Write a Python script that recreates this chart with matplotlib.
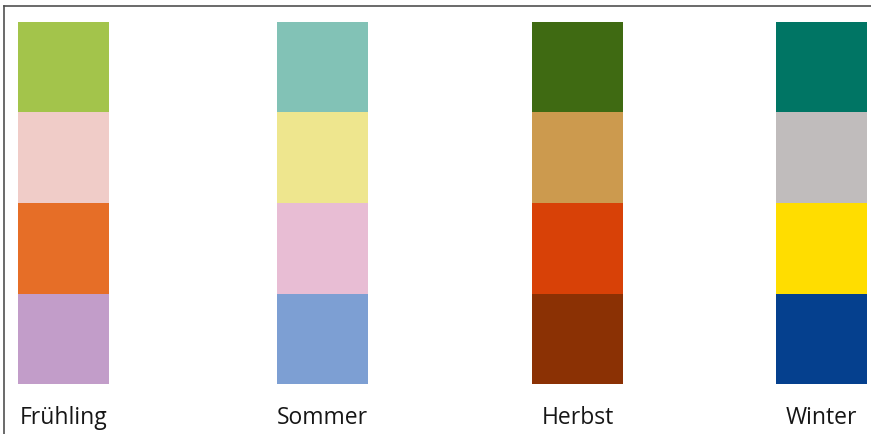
import matplotlib.pyplot as plt

# Jahreszeiten und ihre Farbpaletten (von oben nach unten)
seasons = ['Frühling', 'Sommer', 'Herbst', 'Winter']
fruehling_colors = ['#A3C44B', '#F0CCC8', '#E66E27', '#C29DC9']
sommer_colors = ['#82C2B6', '#EEE68E', '#E8BDD4', '#7D9FD3']
herbst_colors = ['#3F6A12', '#CC9A4E', '#D84107', '#8B3104']
winter_colors = ['#007564', '#C0BCBC', '#FFDD00', '#05408E']

palettes = [fruehling_colors, sommer_colors, herbst_colors, winter_colors]

# Layout (Pixel bei dpi=100)
W, H = 871, 434
x_pos = [63.5, 322.5, 577.5, 821.5]
bar_width = 91

plt.rcParams['font.family'] = ['Open Sans', 'DejaVu Sans']

fig = plt.figure(figsize=(W / 100, H / 100), dpi=100)
fig.patch.set_facecolor('white')

# Rahmen oben und links
frame = fig.add_axes([4 / W, 0, 1 - 4 / W, 1 - 6 / H])
frame.set_xticks([])
frame.set_yticks([])
frame.patch.set_alpha(0)
for side in ['right', 'bottom']:
    frame.spines[side].set_visible(False)
for side in ['top', 'left']:
    frame.spines[side].set_color('#505050')
    frame.spines[side].set_linewidth(1.2)

# Farbfelder
top_px, bottom_px = 22, 384
ax = fig.add_axes([0, (H - bottom_px) / H, 1, (bottom_px - top_px) / H])
ax.set_xlim(0, W)
ax.set_ylim(4, 0)
ax.axis('off')

for x, colors in zip(x_pos, palettes):
    for i, c in enumerate(colors):
        ax.bar(x, 1, bottom=i, width=bar_width, color=c, linewidth=0)

# Beschriftungen
label_y = 4 + (424 - bottom_px) / ((bottom_px - top_px) / 4)
for x, name in zip(x_pos, seasons):
    ax.text(x, label_y, name, ha='center', va='baseline', fontsize=16.5,
            color='#161616', clip_on=False)

plt.savefig('out.png', dpi=100, facecolor='white')
